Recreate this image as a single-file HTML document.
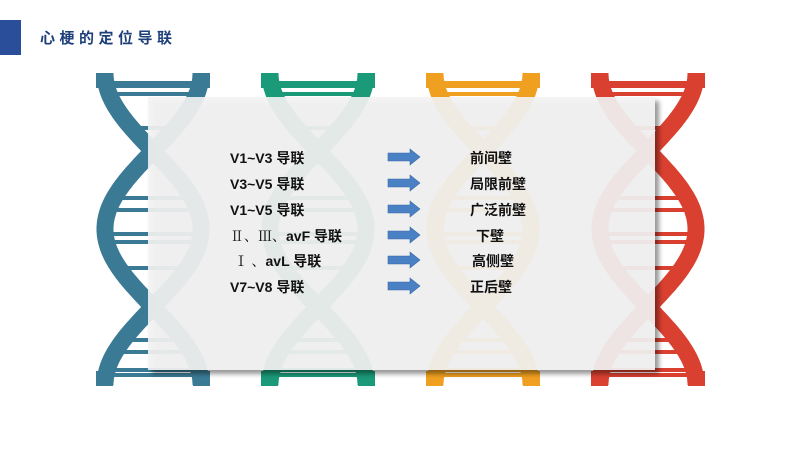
<!DOCTYPE html>
<html><head><meta charset="utf-8"><style>
body{margin:0;width:800px;height:450px;background:#fff;overflow:hidden;font-family:"Liberation Sans","Noto Sans CJK SC",sans-serif}
</style></head><body>
<svg id="s" width="800" height="450" xmlns="http://www.w3.org/2000/svg" style="position:absolute;left:0;top:0">
<defs><filter id="sh" x="-5%" y="-5%" width="115%" height="120%"><feDropShadow dx="4" dy="4" stdDeviation="2.5" flood-color="#000" flood-opacity="0.45"/></filter></defs>
<rect x="0" y="20" width="21" height="35" fill="#2b4e9a"/>
<text x="40" y="43" font-size="15" font-weight="bold" fill="#1e3f7a" letter-spacing="4.5" font-family="Liberation Sans, Noto Sans CJK SC, sans-serif">心梗的定位导联</text>
<g id="dna"></g>
<rect x="148" y="97" width="507" height="273" fill="#f3f3f3" fill-opacity="0.9" filter="url(#sh)"/>
<g font-size="14" font-weight="bold" fill="#111" font-family="Liberation Sans, Noto Sans CJK SC, sans-serif">
<text x="230" y="163">V1~V3 导联</text>
<text x="230" y="189">V3~V5 导联</text>
<text x="230" y="215">V1~V5 导联</text>
<text x="230" y="241"><tspan font-weight="normal" font-family="Liberation Serif, Noto Serif CJK SC, serif">Ⅱ、Ⅲ、</tspan>avF 导联</text>
<text x="234" y="266"><tspan font-weight="normal" font-family="Liberation Serif, Noto Serif CJK SC, serif">Ⅰ 、</tspan>avL 导联</text>
<text x="230" y="292">V7~V8 导联</text>
<text x="470" y="163">前间壁</text>
<text x="470" y="189">局限前壁</text>
<text x="470" y="215">广泛前壁</text>
<text x="476" y="241">下壁</text>
<text x="472" y="266">高侧壁</text>
<text x="470" y="292">正后壁</text>
</g>
<g id="arr" fill="#4a80c4" stroke="#3a6aa8" stroke-width="0.6"></g>
</svg>
<script>
var ns="http://www.w3.org/2000/svg";
function el(t,a,p){var e=document.createElementNS(ns,t);for(var k in a)e.setAttribute(k,a[k]);p.appendChild(e);return e;}
var g=document.getElementById('dna');
var cols=[["#3a7a94",153],["#1a9a78",318],["#f0a020",483],["#d94030",648]];
var rungs=[86,94,128,198,210,234,242,268,340,352,370];
cols.forEach(function(c){
  var col=c[0],cx=c[1],A=48;
  for(var s=0;s<2;s++){
    var d="";
    for(var y=73;y<=385;y+=2){
      var x=cx+(s?1:-1)*A*Math.cos(Math.PI*(y-73)/156);
      d+=(y==73?"M":"L")+x.toFixed(1)+","+y;
    }
    el('path',{d:d,fill:'none',stroke:col,'stroke-width':17},g);
  }
  el('rect',{x:cx-57,y:73,width:17,height:15,fill:col},g);
  el('rect',{x:cx+40,y:73,width:17,height:15,fill:col},g);
  el('rect',{x:cx-57,y:81,width:114,height:4,fill:col},g);
  el('rect',{x:cx-57,y:371,width:17,height:15,fill:col},g);
  el('rect',{x:cx+40,y:371,width:17,height:15,fill:col},g);
  el('rect',{x:cx-57,y:373,width:114,height:4,fill:col},g);
  rungs.forEach(function(y){
    var w=Math.abs(A*Math.cos(Math.PI*(y-73)/156));
    if(w<12)return;
    el('line',{x1:cx-w,y1:y,x2:cx+w,y2:y,stroke:col,'stroke-width':4},g);
  });
});
var a=document.getElementById('arr');
[157,183,209,235,260,286].forEach(function(y){
  el('path',{d:"M388,"+(y-4)+"L410,"+(y-4)+"L410,"+(y-8)+"L420,"+y+"L410,"+(y+8)+"L410,"+(y+4)+"L388,"+(y+4)+"Z"},a);
});
</script>
</body></html>
